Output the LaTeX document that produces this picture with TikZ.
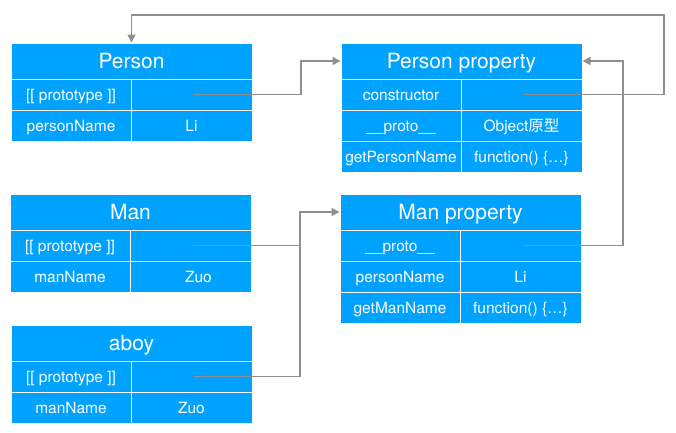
\documentclass[tikz,border=0pt]{standalone}
\usepackage{fontspec}
\setmainfont{TeX Gyre Heros}
\newfontfamily\cjk{Noto Sans CJK SC}
\usetikzlibrary{arrows.meta}
\definecolor{boxblue}{RGB}{0,162,255}
\definecolor{conngray}{RGB}{143,143,143}
\tikzset{
  cellbox/.style={rectangle, fill=boxblue, draw=white, line width=1pt, inner sep=0pt, text=white, font=\fontsize{15.5}{18}\selectfont, minimum height=31pt, text height=11.2pt, text depth=0pt},
  lcell/.style={cellbox, minimum width=120pt},
  rcell/.style={cellbox, minimum width=121pt},
  titlecell/.style={cellbox, minimum width=241pt, minimum height=36pt, font=\fontsize{21}{25}\selectfont, text height=15pt},
  conn/.style={draw=conngray, line width=1.6pt},
  connarrow/.style={conn, -{Triangle[length=8pt,width=8pt]}},
}
\begin{document}
\begin{tikzpicture}[x=1pt,y=-1pt]
\useasboundingbox (0,0) rectangle (676,432);
% Person
\node[titlecell] (P-t) at (131.5,61) {Person};
\node[lcell] (P-1a) at (71,94.5) {[[ prototype ]]};
\node[rcell] (P-1b) at (191.5,94.5) {};
\node[lcell] (P-2a) at (71,125.5) {personName};
\node[rcell] (P-2b) at (191.5,125.5) {Li};
% Person property
\node[titlecell] (PP-t) at (461.5,61) {Person property};
\node[lcell] (PP-1a) at (401,94.5) {constructor};
\node[rcell] (PP-1b) at (521.5,94.5) {};
\node[lcell] (PP-2a) at (401,125.5) {\_\_proto\_\_};
\node[rcell] (PP-2b) at (521.5,125.5) {Object{\cjk 原型}};
\node[lcell] (PP-3a) at (401,156.5) {getPersonName};
\node[rcell] (PP-3b) at (521.5,156.5) {function() \{…\}};
% Man
\node[titlecell] (M-t) at (130.5,212) {Man};
\node[lcell] (M-1a) at (70,245.5) {[[ prototype ]]};
\node[rcell] (M-1b) at (190.5,245.5) {};
\node[lcell] (M-2a) at (70,276.5) {manName};
\node[rcell] (M-2b) at (190.5,276.5) {\hspace*{16pt}Zuo};
% aboy
\node[titlecell] (A-t) at (131.5,343) {aboy};
\node[lcell] (A-1a) at (71,376.5) {[[ prototype ]]};
\node[rcell] (A-1b) at (191.5,376.5) {};
\node[lcell] (A-2a) at (71,407.5) {manName};
\node[rcell] (A-2b) at (191.5,407.5) {Zuo};
% Man property
\node[titlecell] (MP-t) at (460.5,212) {Man property};
\node[lcell] (MP-1a) at (400,245.5) {\_\_proto\_\_};
\node[rcell] (MP-1b) at (520.5,245.5) {};
\node[lcell] (MP-2a) at (400,276.5) {personName};
\node[rcell] (MP-2b) at (520.5,276.5) {Li};
\node[lcell] (MP-3a) at (400,307.5) {getManName};
\node[rcell] (MP-3b) at (520.5,307.5) {function() \{…\}};
% connectors
\coordinate (j1) at (301,94.5);
\draw[connarrow] ([xshift=2pt]P-1b.center) -- (j1) |- (PP-t.west);
\coordinate (j2) at (664,15);
\draw[connarrow] ([xshift=2pt]PP-1b.center) -| (j2) -| (P-t.north);
\coordinate (j3) at (623,245.5);
\draw[connarrow] ([xshift=2pt]MP-1b.center) -- (j3) |- (PP-t.east);
\coordinate (j4) at (300,245.5);
\draw[conn] ([xshift=2pt]M-1b.center) -- (j4);
\draw[connarrow] ([xshift=2pt]A-1b.center) -| (j4) |- (MP-t.west);
\end{tikzpicture}
\end{document}
